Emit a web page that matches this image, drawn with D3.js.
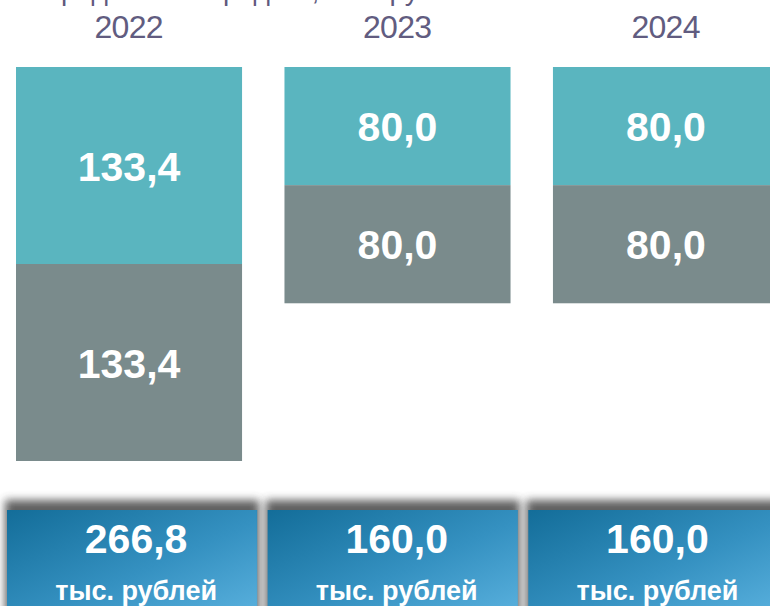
<!DOCTYPE html>
<html>
<head>
<meta charset="utf-8">
<script src="https://cdn.jsdelivr.net/npm/d3@7"></script>
<style>
  body { margin: 0; background: #fff; }
  svg { display: block; font-family: "Liberation Sans", Arial, sans-serif; }
</style>
</head>
<body>
<svg id="chart" width="770" height="606"></svg>
<script>
const years = ["2022", "2023", "2024"];
const topValues = [133.4, 80.0, 80.0];
const bottomValues = [133.4, 80.0, 80.0];
const totals = [266.8, 160.0, 160.0];
const unitLabel = "тыс. рублей";
const titleText = "Распределение средств, тыс. рублей";

const svg = d3.select("#chart");
const fmt = v => d3.format(".1f")(v).replace(".", ",");

// bars: step ~268.5, width ~226
const x = d3.scaleBand().domain(years).range([16, 779]).paddingInner(0.158).paddingOuter(0);
// total boxes: step ~260.5, width ~250
const xb = d3.scaleBand().domain(years).range([7, 778.5]).paddingInner(0.04).paddingOuter(0);
const y = d3.scaleLinear().domain([0, 266.8]).range([67, 461]);

const defs = svg.append("defs");
const grad = defs.append("linearGradient").attr("id", "boxGrad")
  .attr("x1", "0%").attr("y1", "0%").attr("x2", "100%").attr("y2", "100%");
grad.append("stop").attr("offset", "0%").attr("stop-color", "#136d99");
grad.append("stop").attr("offset", "55%").attr("stop-color", "#3591c1");
grad.append("stop").attr("offset", "100%").attr("stop-color", "#5bb2df");
defs.append("filter").attr("id", "blur").attr("x", "-20%").attr("y", "-50%").attr("width", "140%").attr("height", "200%")
  .append("feGaussianBlur").attr("stdDeviation", 4);

// title, almost fully above the top edge as in the reference
svg.append("text").attr("x", 240).attr("y", 0).attr("text-anchor", "middle")
  .attr("fill", "#5f5a7e").style("font-size", "28px").text(titleText);

// year labels
svg.selectAll(".year").data(years).join("text")
  .attr("x", d => x(d) + x.bandwidth() / 2)
  .attr("y", 38)
  .attr("text-anchor", "middle")
  .attr("fill", "#615c80")
  .style("font-size", "32px")
  .attr("textLength", 69)
  .text(d => d);

const rows = years.map((yr, i) => ({ yr, top: topValues[i], bottom: bottomValues[i], total: totals[i] }));

const g = svg.selectAll(".col").data(rows).join("g");

g.append("rect")
  .attr("x", d => x(d.yr)).attr("width", x.bandwidth())
  .attr("y", y(0)).attr("height", d => y(d.top) - y(0))
  .attr("fill", "#5ab5bf");
g.append("rect")
  .attr("x", d => x(d.yr)).attr("width", x.bandwidth())
  .attr("y", d => y(d.top)).attr("height", d => y(d.top + d.bottom) - y(d.top))
  .attr("fill", "#7a8b8c");

g.append("text")
  .attr("x", d => x(d.yr) + x.bandwidth() / 2)
  .attr("y", d => (y(0) + y(d.top)) / 2 + 15)
  .attr("text-anchor", "middle").attr("fill", "#fff")
  .style("font-size", "41px").style("font-weight", "bold")
  .text(d => fmt(d.top));
g.append("text")
  .attr("x", d => x(d.yr) + x.bandwidth() / 2)
  .attr("y", d => (y(d.top) + y(d.top + d.bottom)) / 2 + 15)
  .attr("text-anchor", "middle").attr("fill", "#fff")
  .style("font-size", "41px").style("font-weight", "bold")
  .text(d => fmt(d.bottom));

// total boxes
g.append("rect")
  .attr("x", d => xb(d.yr) - 2).attr("y", 500).attr("width", xb.bandwidth() + 4).attr("height", 120)
  .attr("fill", "#444").attr("opacity", 0.85).attr("filter", "url(#blur)");
g.append("rect")
  .attr("x", d => xb(d.yr)).attr("y", 510).attr("width", xb.bandwidth()).attr("height", 110)
  .attr("fill", "url(#boxGrad)");
g.append("text")
  .attr("x", d => xb(d.yr) + xb.bandwidth() / 2 + 4).attr("y", 553)
  .attr("text-anchor", "middle").attr("fill", "#fff")
  .style("font-size", "41px").style("font-weight", "bold")
  .text(d => fmt(d.total));
g.append("text")
  .attr("x", d => xb(d.yr) + xb.bandwidth() / 2 + 4).attr("y", 600)
  .attr("text-anchor", "middle").attr("fill", "#fff")
  .style("font-size", "27px").style("font-weight", "bold")
  .text(unitLabel);
</script>
</body>
</html>
